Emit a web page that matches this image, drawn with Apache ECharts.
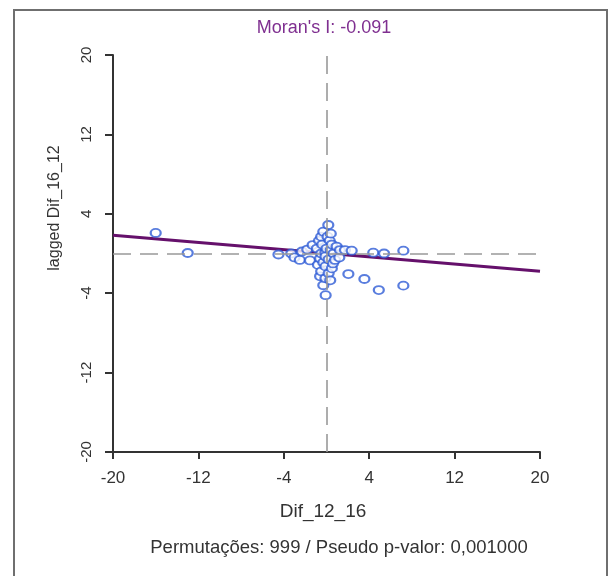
<!DOCTYPE html>
<html>
<head>
<meta charset="utf-8">
<script src="https://cdn.jsdelivr.net/npm/echarts@6/dist/echarts.min.js"></script>
<style>
  html, body { margin: 0; padding: 0; background: #fff; }
  #chart { width: 611px; height: 576px; }
</style>
</head>
<body>
<div id="chart"></div>
<script>
// scatter points: [Dif_12_16, lagged Dif_16_12]
var points = [
    [-16.0, 2.07], [-13.0, 0.05], [-4.5, -0.1], [-3.3, 0.0], [-3.0, -0.4],
    [-2.5, -0.65], [-2.3, 0.2], [-1.8, 0.4], [-1.55, -0.7], [-1.3, 0.85],
    [-0.9, 0.5], [-0.8, -1.15], [-0.7, 1.3], [-0.6, -0.5], [-0.6, -2.3],
    [-0.5, 1.7], [-0.5, 0.0], [-0.5, -1.8], [-0.4, 0.9], [-0.3, 2.2],
    [-0.3, -0.9], [-0.3, -3.2], [-0.1, 0.1], [-0.1, -0.3], [-0.1, -1.3],
    [-0.1, -2.5], [-0.08, -4.2], [0.0, 0.5], [0.1, 1.7], [0.17, 2.87],
    [0.2, -0.6], [0.2, -2.0], [0.3, 1.3], [0.35, -2.7], [0.4, 2.0],
    [0.4, 0.35], [0.5, 0.9], [0.5, -1.5], [0.6, -1.0], [0.65, 0.0],
    [0.8, -0.65], [0.95, 0.7], [1.2, -0.4], [1.26, 0.35], [1.73, 0.35],
    [2.05, -2.07], [2.36, 0.28], [3.55, -2.57], [4.38, 0.08], [4.9, -3.68],
    [5.39, 0.0], [7.2, 0.28], [7.2, -3.24]
];
// regression line end points
var fitLine = [[-20, 1.85], [20, -1.8]];
var axisTicks = [-20, -12, -4, 4, 12, 20];

var chart = echarts.init(document.getElementById('chart'));
var font = 'Liberation Sans, Arial, sans-serif';

var option = {
    animation: false,
    grid: { left: 113, right: 71, top: 55, bottom: 124 },
    xAxis: {
        type: 'value',
        min: axisTicks[0],
        max: axisTicks[axisTicks.length - 1],
        interval: 8,
        splitLine: { show: false },
        axisLine: { onZero: false, lineStyle: { color: '#333', width: 2 } },
        axisTick: { length: 7, lineStyle: { color: '#333', width: 2 } },
        axisLabel: { color: '#333', fontSize: 17, margin: 18, fontFamily: font }
    },
    yAxis: {
        type: 'value',
        min: axisTicks[0],
        max: axisTicks[axisTicks.length - 1],
        interval: 8,
        splitLine: { show: false },
        axisLine: { onZero: false, lineStyle: { color: '#333', width: 2 } },
        axisTick: { length: 8, lineStyle: { color: '#333', width: 2 } },
        axisLabel: { color: '#333', fontSize: 15, margin: 19, rotate: 90, fontFamily: font }
    },
    series: [
        {
            type: 'scatter',
            data: points,
            symbol: 'emptyCircle',
            symbolSize: [10, 8],
            itemStyle: { color: '#2f5cd6', borderColor: '#2f5cd6', borderWidth: 1.8 },
            markLine: {
                silent: true,
                symbol: 'none',
                label: { show: false },
                lineStyle: { color: '#999', width: 1.6, type: [18, 9] },
                data: [{ xAxis: 0 }, { yAxis: 0 }]
            },
            z: 3
        },
        {
            type: 'line',
            data: fitLine,
            symbol: 'none',
            lineStyle: { color: '#65106b', width: 3 },
            z: 2
        }
    ],
    graphic: [
        {
            type: 'rect',
            shape: { x: 14, y: 10, width: 593, height: 600 },
            style: { fill: 'none', stroke: '#6f6f6f', lineWidth: 2 },
            silent: true
        },
        {
            type: 'text', x: 324, y: 28,
            style: { text: "Moran's I: -0.091", fill: '#7f2f90', font: '18px ' + font, textAlign: 'center', textVerticalAlign: 'middle' }
        },
        {
            type: 'text', x: 55, y: 208, rotation: Math.PI / 2,
            style: { text: 'lagged Dif_16_12', fill: '#333', font: '16px ' + font, textAlign: 'center', textVerticalAlign: 'middle' }
        },
        {
            type: 'text', x: 323, y: 512,
            style: { text: 'Dif_12_16', fill: '#333', font: '19px ' + font, textAlign: 'center', textVerticalAlign: 'middle' }
        },
        {
            type: 'text', x: 339, y: 548,
            style: { text: 'Permutações: 999 / Pseudo p-valor: 0,001000', fill: '#333', font: '18.5px ' + font, textAlign: 'center', textVerticalAlign: 'middle' }
        }
    ]
};
chart.setOption(option);
</script>
</body>
</html>
